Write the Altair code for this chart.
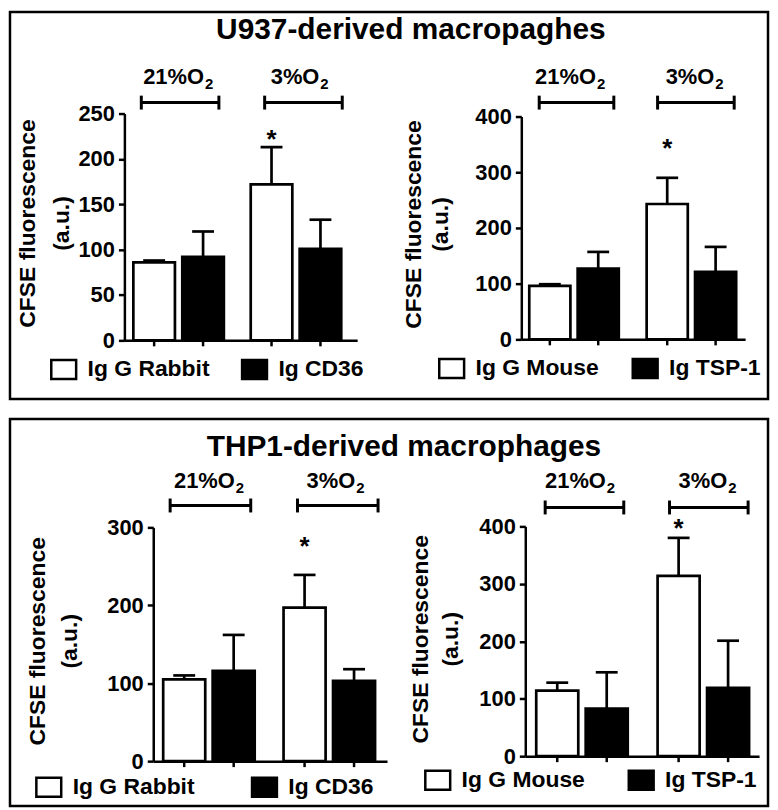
import altair as alt
import pandas as pd

FONT = "Liberation Sans"

# ---------------- data ----------------
oxygen = ["21%O2", "3%O2"]

u937_cd36_groups = ["Ig G Rabbit", "Ig CD36"]
u937_cd36_mean = [86, 92, 172, 101]
u937_cd36_sem = [2, 28, 41, 32]

u937_tsp_groups = ["Ig G Mouse", "Ig TSP-1"]
u937_tsp_mean = [96, 127, 243, 121]
u937_tsp_sem = [3, 30, 47, 45]

thp1_cd36_groups = ["Ig G Rabbit", "Ig CD36"]
thp1_cd36_mean = [105, 116, 197, 103]
thp1_cd36_sem = [5, 46, 42, 15]

thp1_tsp_groups = ["Ig G Mouse", "Ig TSP-1"]
thp1_tsp_mean = [114, 83, 314, 119]
thp1_tsp_sem = [14, 63, 66, 82]

star_levels = [223, 346, 277, 399]  # height of the "*" in data units

ticks_u937_cd36 = [0, 50, 100, 150, 200, 250]
ticks_u937_tsp = [0, 100, 200, 300, 400]
ticks_thp1_cd36 = [0, 100, 200, 300]
ticks_thp1_tsp = [0, 100, 200, 300, 400]

box_titles = ["U937-derived macropaghes", "THP1-derived macrophages"]
yaxis_title = ["CFSE fluorescence", "(a.u.)"]
bracket_main = ["21%O", "3%O"]
bracket_sub = "2"

# ---------------- layout (pixels inside each box) ----------------
W, H = 762, 389

LAY = {
    "A": dict(x0=115, x1=349, first=124, gw=91, gap=27, y0=330, y1=102,
              tx=-90, ty=212, lh=34, lgx=40, lgy=345, blk=227,
              br=[(132, 210), (256, 334)], bry=91, split=[195, 311], ty_lab=72),
    "B": dict(x0=514, x1=739, first=522, gw=90, gap=28, y0=329, y1=105,
              tx=-101, ty=213, lh=27, lgx=430, lgy=344, blk=620,
              br=[(532, 607), (651, 728)], bry=91, split=[589, 708], ty_lab=72),
    "C": dict(x0=144, x1=379, first=154, gw=92, gap=29, y0=344, y1=109,
              tx=-109, ty=223, lh=32, lgx=25, lgy=356, blk=237,
              br=[(161, 242), (289, 370)], bry=87, split=[226, 347], ty_lab=69),
    "D": dict(x0=518, x1=753, first=529, gw=92, gap=30, y0=339, y1=108,
              tx=-98, ty=221, lh=30, lgx=416, lgy=349, blk=616,
              br=[(538, 617), (663, 742)], bry=89, split=[599, 721], ty_lab=69),
}

AW = {" ": 278, "(": 333, ")": 333, ".": 278, "-": 333, "%": 889,
      "A": 722, "B": 722, "C": 722, "D": 722, "E": 667, "F": 611, "G": 778,
      "H": 722, "I": 278, "M": 833, "O": 778, "P": 667, "R": 722, "S": 667,
      "T": 611, "U": 722, "a": 556, "b": 611, "c": 556, "d": 611, "e": 556,
      "f": 333, "g": 611, "h": 611, "i": 278, "l": 278, "m": 889, "n": 611,
      "o": 611, "p": 611, "r": 389, "s": 556, "t": 333, "u": 611, "v": 556}


def text_width(s, size):
    return sum(AW.get(c, 556) for c in s) * size / 1000.0


LEG_SIZE = 23
SYM = 625  # 25 px bounding square
SYM_PATH = "M-1,-0.76L1,-0.76L1,0.76L-1,0.76Z"
LABEL_OFF = 10


def make_panel(groups, mean, sem, star, ticks, L):
    df = pd.DataFrame({
        "oxygen": [oxygen[0], oxygen[0], oxygen[1], oxygen[1]],
        "antibody": groups * 2,
        "mean": mean,
        "upper": [m + s for m, s in zip(mean, sem)],
    })
    star_df = pd.DataFrame({"oxygen": [oxygen[1]], "antibody": [groups[0]], "v": [star]})

    step = L["gw"] + L["gap"]
    pi = L["gap"] / step
    occupied = 2 * step - L["gap"]
    outer = (L["x1"] - L["x0"]) - occupied
    po = outer / (2 * step)
    al = (L["first"] - L["x0"]) / outer

    xscale = alt.Scale(domain=oxygen, range=[L["x0"], L["x1"]],
                       paddingInner=pi, paddingOuter=po, align=al)
    xoff = alt.Scale(domain=groups, paddingInner=0.15, paddingOuter=0)
    yscale = alt.Scale(domain=[0, ticks[-1]], range=[L["y0"], L["y1"]], nice=False)

    xaxis = alt.Axis(orient="bottom", offset=L["y0"] - H, labels=False, ticks=False,
                     title=None, domainColor="black", domainWidth=2.5, grid=False)
    yaxis = alt.Axis(orient="left", offset=-L["x0"], values=ticks, grid=False,
                     title=yaxis_title, titleX=L["tx"], titleY=L["ty"], titleAngle=270,
                     titleAlign="center", titleBaseline="alphabetic",
                     titleLineHeight=L["lh"], titleFont=FONT, titleFontSize=23,
                     titleFontWeight="bold", titleColor="black",
                     labelFont=FONT, labelFontSize=22, labelFontWeight="bold",
                     labelColor="black", labelPadding=4,
                     tickSize=6, tickWidth=2.5, tickColor="black",
                     domainColor="black", domainWidth=2.5)

    entry_w = (SYM ** 0.5) + 2.5 + LABEL_OFF + text_width(groups[0], LEG_SIZE)
    cp = (L["blk"] - L["lgx"]) - entry_w
    legend = alt.Legend(title=None, orient="none", legendX=L["lgx"], legendY=L["lgy"],
                        direction="horizontal", symbolType=SYM_PATH, symbolSize=SYM,
                        symbolStrokeColor="black", symbolStrokeWidth=2.5,
                        labelFont=FONT, labelFontSize=LEG_SIZE, labelFontWeight="bold",
                        labelColor="black", labelOffset=LABEL_OFF, columnPadding=cp,
                        padding=0, labelLimit=400)

    def X():
        return alt.X("oxygen:N", scale=xscale, axis=xaxis)

    def XO():
        return alt.XOffset("antibody:N", scale=xoff)

    base = alt.Chart(df)
    bars = base.mark_bar(stroke="black", strokeWidth=2.7).encode(
        x=X(), xOffset=XO(),
        y=alt.Y("mean:Q", scale=yscale, axis=yaxis),
        fill=alt.Fill("antibody:N", scale=alt.Scale(domain=groups, range=["white", "black"]),
                      legend=legend),
    )
    err = base.mark_rule(color="black", strokeWidth=2.7).encode(
        x=X(), xOffset=XO(),
        y=alt.Y("mean:Q", scale=yscale, axis=yaxis), y2="upper:Q",
    )
    caps = base.mark_tick(color="black", thickness=2.7, size=22, opacity=1).encode(
        x=X(), xOffset=XO(),
        y=alt.Y("upper:Q", scale=yscale, axis=yaxis),
    )
    xticks = base.mark_rule(color="black", strokeWidth=2.5).encode(
        x=X(), xOffset=XO(),
        y=alt.value(L["y0"]), y2=alt.value(L["y0"] + 6),
    )
    stars = alt.Chart(star_df).mark_text(text="*", font=FONT, fontSize=26, fontWeight="bold",
                                         color="black", baseline="alphabetic", dy=10).encode(
        x=X(), xOffset=XO(),
        y=alt.Y("v:Q", scale=yscale, axis=yaxis),
    )
    return alt.layer(err, bars, caps, xticks, stars)


def make_annotations(title, tx, ty, panels):
    rules, mains, subs = [], [], []
    for L in panels:
        y = L["bry"]
        for (xl, xr), sp, lab in zip(L["br"], L["split"], bracket_main):
            rules.append(dict(x=xl, x2=xr, y=y, y2=y))
            rules.append(dict(x=xl, x2=xl, y=y - 7, y2=y + 7))
            rules.append(dict(x=xr, x2=xr, y=y - 7, y2=y + 7))
            mains.append(dict(x=sp, y=L["ty_lab"], t=lab))
            subs.append(dict(x=sp + 1, y=L["ty_lab"] + 5, t=bracket_sub))
    r = alt.Chart(pd.DataFrame(rules)).mark_rule(color="black", strokeWidth=3).encode(
        x=alt.X("x:Q", scale=None, axis=None), x2="x2:Q",
        y=alt.Y("y:Q", scale=None, axis=None), y2="y2:Q")
    m = alt.Chart(pd.DataFrame(mains)).mark_text(font=FONT, fontSize=22, fontWeight="bold",
                                                 color="black", align="right",
                                                 baseline="alphabetic").encode(
        x=alt.X("x:Q", scale=None, axis=None), y=alt.Y("y:Q", scale=None, axis=None),
        text="t:N")
    s = alt.Chart(pd.DataFrame(subs)).mark_text(font=FONT, fontSize=15, fontWeight="bold",
                                                color="black", align="left",
                                                baseline="alphabetic").encode(
        x=alt.X("x:Q", scale=None, axis=None), y=alt.Y("y:Q", scale=None, axis=None),
        text="t:N")
    t = alt.Chart(pd.DataFrame([dict(x=tx, y=ty, t=title)])).mark_text(
        font=FONT, fontSize=30, fontWeight="bold", color="black", align="center",
        baseline="alphabetic").encode(
        x=alt.X("x:Q", scale=None, axis=None), y=alt.Y("y:Q", scale=None, axis=None),
        text="t:N")
    return [r, m, s, t]


def make_box(pa, pb, title, tx, ty, La, Lb):
    layers = [pa, pb] + make_annotations(title, tx, ty, [La, Lb])
    return alt.layer(*layers).resolve_scale(
        x="independent", y="independent", xOffset="independent", fill="independent"
    ).resolve_axis(x="independent", y="independent").resolve_legend(
        fill="independent").properties(width=W, height=H)


pA = make_panel(u937_cd36_groups, u937_cd36_mean, u937_cd36_sem, star_levels[0], ticks_u937_cd36, LAY["A"])
pB = make_panel(u937_tsp_groups, u937_tsp_mean, u937_tsp_sem, star_levels[1], ticks_u937_tsp, LAY["B"])
pC = make_panel(thp1_cd36_groups, thp1_cd36_mean, thp1_cd36_sem, star_levels[2], ticks_thp1_cd36, LAY["C"])
pD = make_panel(thp1_tsp_groups, thp1_tsp_mean, thp1_tsp_sem, star_levels[3], ticks_thp1_tsp, LAY["D"])

box1 = make_box(pA, pB, box_titles[0], 403, 27, LAY["A"], LAY["B"])
box2 = make_box(pC, pD, box_titles[1], 396, 37, LAY["C"], LAY["D"])

chart = alt.vconcat(box1, box2, spacing=16).properties(
    padding=0, background="white"
).configure_view(
    stroke="black", strokeWidth=2.5
).configure_axis(labelFontWeight="bold", titleFontWeight="bold")

chart.save("out.html", embed_options={"renderer": "svg", "actions": False})
